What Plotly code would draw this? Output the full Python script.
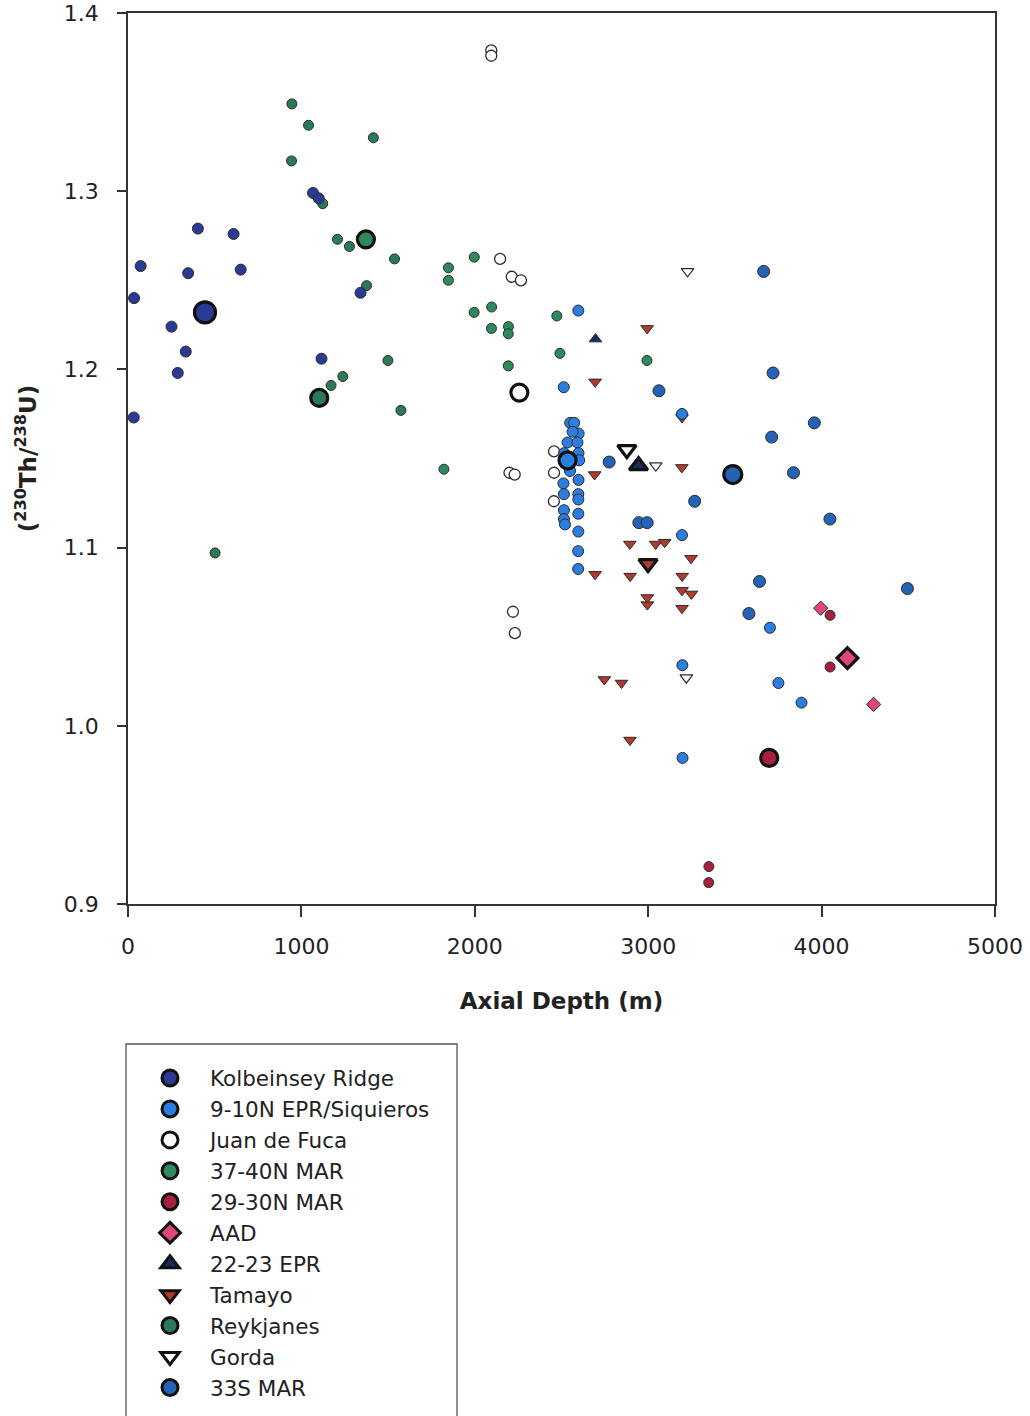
import plotly.graph_objects as go

# ---------------- data ----------------
kolb_x = [73, 35, 403, 609, 347, 650, 251, 333, 287, 33, 1067, 1100, 1341, 1116]
kolb_y = [1.258, 1.240, 1.279, 1.276, 1.254, 1.256, 1.224, 1.210, 1.198, 1.173, 1.299, 1.296, 1.243, 1.206]
kolb_avg_x = [444]
kolb_avg_y = [1.232]

epr910_x = [2597, 2513, 3195, 2550, 2573, 2599, 2564, 2535, 2592, 2598, 2602, 2515, 2549, 2598, 2511, 2514,
            2597, 2597, 2597, 2514, 2514, 2520, 2597, 2596, 2596, 3195, 3702, 3197, 3751, 3884, 3198]
epr910_y = [1.233, 1.190, 1.175, 1.170, 1.170, 1.164, 1.165, 1.159, 1.159, 1.153, 1.149, 1.153, 1.143, 1.138,
            1.136, 1.130, 1.130, 1.127, 1.119, 1.121, 1.116, 1.113, 1.109, 1.098, 1.088, 1.107, 1.055, 1.034,
            1.024, 1.013, 0.982]
epr910_avg_x = [2535]
epr910_avg_y = [1.149]

jdf_x = [2095, 2095, 2146, 2213, 2266, 2457, 2200, 2230, 2457, 2456, 2220, 2231]
jdf_y = [1.379, 1.376, 1.262, 1.252, 1.250, 1.154, 1.142, 1.141, 1.142, 1.126, 1.064, 1.052]
jdf_avg_x = [2257]
jdf_avg_y = [1.187]

mar3740_x = [1848, 1848, 1997, 1996, 2097, 2096, 2194, 2193, 2193, 2473, 2491, 2993, 1822]
mar3740_y = [1.257, 1.250, 1.263, 1.232, 1.235, 1.223, 1.224, 1.220, 1.202, 1.230, 1.209, 1.205, 1.144]
mar3740_avg_x = [1372]
mar3740_avg_y = [1.273]

mar2930_x = [3350, 3349, 4049, 4049]
mar2930_y = [0.921, 0.912, 1.062, 1.033]
mar2930_avg_x = [3698]
mar2930_avg_y = [0.982]

aad_x = [3995, 4300]
aad_y = [1.066, 1.012]
aad_avg_x = [4149]
aad_avg_y = [1.038]

epr2223_x = [2696]
epr2223_y = [1.217]
epr2223_avg_x = [2944]
epr2223_avg_y = [1.146]

tamayo_x = [2994, 2694, 2691, 3194, 2894, 3043, 3095, 3247, 2694, 2896, 3196, 2995, 2995, 3195, 3249, 3195,
            2747, 2846, 2895, 3195]
tamayo_y = [1.223, 1.193, 1.141, 1.145, 1.102, 1.102, 1.103, 1.094, 1.085, 1.084, 1.084, 1.072, 1.068, 1.076,
            1.074, 1.066, 1.026, 1.024, 0.992, 1.173]
tamayo_avg_x = [2999]
tamayo_avg_y = [1.091]

reyk_x = [945, 1041, 1415, 943, 1123, 1208, 1277, 1376, 1239, 1171, 1499, 1574, 502, 1537]
reyk_y = [1.349, 1.337, 1.330, 1.317, 1.293, 1.273, 1.269, 1.247, 1.196, 1.191, 1.205, 1.177, 1.097, 1.262]
reyk_avg_x = [1103]
reyk_avg_y = [1.184]

gorda_x = [3227, 3044, 3220]
gorda_y = [1.255, 1.146, 1.027]
gorda_avg_x = [2877]
gorda_avg_y = [1.155]

mar33s_x = [3666, 3720, 3062, 3958, 3712, 3838, 3268, 4048, 2946, 2994, 2775, 3642, 4495, 3581]
mar33s_y = [1.255, 1.198, 1.188, 1.170, 1.162, 1.142, 1.126, 1.116, 1.114, 1.114, 1.148, 1.081, 1.077, 1.063]
mar33s_avg_x = [3488]
mar33s_avg_y = [1.141]

x_ticks = [0, 1000, 2000, 3000, 4000, 5000]
y_ticks = [0.9, 1.0, 1.1, 1.2, 1.3, 1.4]

# ---------------- styles ----------------
C_KOLB = "#2B3A92"
C_EPR910 = "#2A7EE0"
C_JDF = "#FFFFFF"
C_3740 = "#2E8A5E"
C_2930 = "#A8203F"
C_AAD = "#DE4777"
C_2223 = "#1B2A5C"
C_TAM = "#B13A2C"
C_REYK = "#2A7A58"
C_GORDA = "#FFFFFF"
C_33S = "#2462B6"

EDGE = "#2b2b2b"
FONT = "DejaVu Sans"
TXT = "#222222"

fig = go.Figure()


def small(x, y, color, symbol, size, lw=1.0):
    fig.add_trace(go.Scatter(
        x=x, y=y, mode="markers", showlegend=False, hoverinfo="x+y",
        marker=dict(symbol=symbol, size=size, color=color,
                    line=dict(color=EDGE, width=lw))))


def big(x, y, color, symbol, size, lw=3.2):
    fig.add_trace(go.Scatter(
        x=x, y=y, mode="markers", showlegend=False, hoverinfo="x+y",
        marker=dict(symbol=symbol, size=size, color=color,
                    line=dict(color="#111111", width=lw))))


# draw order
small(tamayo_x, tamayo_y, C_TAM, "triangle-down", 11)
small(jdf_x, jdf_y, C_JDF, "circle", 11, 1.3)
small(gorda_x, gorda_y, C_GORDA, "triangle-down", 11, 1.2)
small(reyk_x, reyk_y, C_REYK, "circle", 10)
small(mar3740_x, mar3740_y, C_3740, "circle", 10)
small(kolb_x, kolb_y, C_KOLB, "circle", 11)
small(mar33s_x, mar33s_y, C_33S, "circle", 12)
small(epr910_x, epr910_y, C_EPR910, "circle", 11)
small(mar2930_x, mar2930_y, C_2930, "circle", 10)
small(aad_x, aad_y, C_AAD, "diamond", 11)
small(epr2223_x, epr2223_y, C_2223, "triangle-up", 11)

big(kolb_avg_x, kolb_avg_y, C_KOLB, "circle", 21)
big(epr910_avg_x, epr910_avg_y, C_EPR910, "circle", 17)
big(jdf_avg_x, jdf_avg_y, C_JDF, "circle", 17)
big(mar3740_avg_x, mar3740_avg_y, C_3740, "circle", 17)
big(reyk_avg_x, reyk_avg_y, C_REYK, "circle", 17)
big(mar2930_avg_x, mar2930_avg_y, C_2930, "circle", 17)
big(aad_avg_x, aad_avg_y, C_AAD, "diamond", 16)
big(epr2223_avg_x, epr2223_avg_y, C_2223, "triangle-up", 16)
big(tamayo_avg_x, tamayo_avg_y, C_TAM, "triangle-down", 16)
big(gorda_avg_x, gorda_avg_y, C_GORDA, "triangle-down", 16)
big(mar33s_avg_x, mar33s_avg_y, C_33S, "circle", 18)

# legend entries
legend_items = [
    ("Kolbeinsey Ridge", C_KOLB, "circle"),
    ("9-10N EPR/Siquieros", C_EPR910, "circle"),
    ("Juan de Fuca", C_JDF, "circle"),
    ("37-40N MAR", C_3740, "circle"),
    ("29-30N MAR", C_2930, "circle"),
    ("AAD", C_AAD, "diamond"),
    ("22-23 EPR", C_2223, "triangle-up"),
    ("Tamayo", C_TAM, "triangle-down"),
    ("Reykjanes", C_REYK, "circle"),
    ("Gorda", C_GORDA, "triangle-down"),
    ("33S MAR", C_33S, "circle"),
]
for name, col, sym in legend_items:
    fig.add_trace(go.Scatter(
        x=[None], y=[None], mode="markers", name=name, showlegend=True,
        marker=dict(symbol=sym, size=16, color=col, line=dict(color="#111111", width=3))))

# ---------------- layout ----------------
W, H = 1030, 1416
ML, MR, MT, MB = 128, 35, 13, 512
PW, PH = W - ML - MR, H - MT - MB


def px_x(px):
    return (px - ML) / PW


def px_y(py):
    return (H - MB - py) / PH


axis_common = dict(
    showline=True, linecolor="#333333", linewidth=1.5, mirror=True,
    ticks="outside", tickcolor="#333333", tickwidth=1.5,
    showgrid=False, zeroline=False, automargin=False,
    tickfont=dict(family=FONT, size=22, color=TXT),
)

fig.update_layout(
    width=W, height=H,
    margin=dict(l=ML, r=MR, t=MT, b=MB, pad=0, autoexpand=False),
    paper_bgcolor="white", plot_bgcolor="white",
    font=dict(family=FONT, color=TXT),
    xaxis=dict(range=[0, 5000], tickvals=x_ticks, ticktext=[str(v) for v in x_ticks],
               ticklen=11, ticklabelstandoff=11,
               title=dict(text="<b>Axial Depth (m)</b>", font=dict(family=FONT, size=23, color=TXT),
                          standoff=35),
               **axis_common),
    yaxis=dict(range=[0.9, 1.4], tickvals=y_ticks, ticktext=["%.1f" % v for v in y_ticks],
               ticklen=9, ticklabelstandoff=14,
               title=dict(text="<b>(<sup>230</sup>Th/<sup>238</sup>U)</b>",
                          font=dict(family=FONT, size=23, color=TXT), standoff=21),
               **axis_common),
    legend=dict(
        x=px_x(130), y=px_y(1057.5), xanchor="left", yanchor="top",
        bgcolor="rgba(0,0,0,0)", borderwidth=0, itemwidth=70,
        font=dict(family=FONT, size=21.5, color=TXT),
        traceorder="normal",
    ),
    shapes=[dict(type="rect", xref="paper", yref="paper",
                 x0=px_x(126), x1=px_x(457), y0=px_y(1445), y1=px_y(1044),
                 line=dict(color="#555555", width=1.3), fillcolor="rgba(0,0,0,0)", layer="below")],
    showlegend=True,
)

fig.write_html("out.html")
